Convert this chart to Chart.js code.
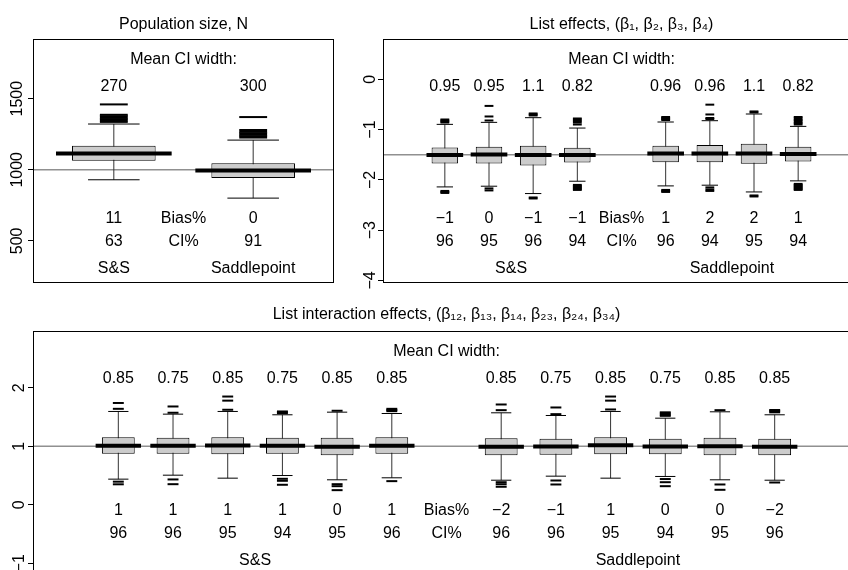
<!DOCTYPE html>
<html>
<head>
<meta charset="utf-8">
<script src="https://cdn.jsdelivr.net/npm/chart.js@4.4.1/dist/chart.umd.min.js"></script>
<style>
  html, body { margin: 0; padding: 0; background: #fff; }
  body { width: 848px; height: 570px; overflow: hidden; position: relative; }
  canvas { position: absolute; }
  #popChart { left: 0; top: 0; }
  #listChart { left: 360px; top: 0; }
  #interChart { left: 0; top: 295px; }
</style>
</head>
<body>
<canvas id="popChart" width="360" height="295"></canvas>
<canvas id="listChart" width="520" height="295"></canvas>
<canvas id="interChart" width="880" height="285"></canvas>
<script>
const methods = ['S&S', 'Saddlepoint'];

// Population size, N
const popPos = [1, 2];
const popTrue = 1000;
const popQ1 = [1063, 942];
const popMed = [1115, 995];
const popQ3 = [1169, 1047];
const popLo = [930, 801];
const popHi = [1322, 1209];
const popOut = [
    [1337, 1347, 1357, 1367, 1377, 1387, 1460],
    [1227, 1237, 1247, 1257, 1267, 1280, 1371]
];
const popWidth = [270, 300];
const popBias = [11, 0];
const popCover = [63, 91];
const popTicks = [500, 1000, 1500];

// List effects
const listPos = [1, 2, 3, 4, 6, 7, 8, 9];
const listTrue = -1.5;
const listQ1 = [-1.674, -1.674, -1.714, -1.654, -1.648, -1.648, -1.681, -1.635];
const listMed = [-1.508, -1.495, -1.508, -1.508, -1.475, -1.475, -1.475, -1.488];
const listQ3 = [-1.355, -1.342, -1.322, -1.362, -1.322, -1.309, -1.283, -1.342];
const listLo = [-2.14, -2.126, -2.272, -2.027, -2.12, -2.106, -2.24, -2.02];
const listHi = [-0.897, -0.857, -0.764, -0.97, -0.85, -0.824, -0.691, -0.937];
const listOut = [
    [-0.80, -0.82, -0.84, -0.86, -2.22, -2.24, -2.26],
    [-0.82, -0.74, -0.53, -2.17, -2.21],
    [-0.68, -0.70, -0.72, -2.35, -2.37],
    [-0.78, -0.80, -0.83, -0.86, -0.90, -2.10, -2.12, -2.14, -2.16, -2.18, -2.20],
    [-0.75, -0.77, -0.79, -0.81, -2.20, -2.22, -2.24],
    [-0.79, -0.77, -0.70, -0.505, -2.15, -2.19, -2.22],
    [-0.64, -0.66, -2.31, -2.33],
    [-0.75, -0.78, -0.81, -0.84, -0.87, -0.90, -2.08, -2.10, -2.12, -2.14, -2.16, -2.18, -2.20]
];
const listWidth = [0.95, 0.95, 1.1, 0.82, 0.96, 0.96, 1.1, 0.82];
const listBias = [-1, 0, -1, -1, 1, 2, 2, 1];
const listCover = [96, 95, 96, 94, 96, 94, 95, 94];
const listTicks = [-4, -3, -2, -1, 0];

// List interaction effects
const interPos = [1, 2, 3, 4, 5, 6, 8, 9, 10, 11, 12, 13];
const interTrue = 1;
const interQ1 = [0.871, 0.871, 0.865, 0.871, 0.848, 0.871, 0.848, 0.854, 0.865, 0.865, 0.848, 0.848];
const interMed = [1.008, 1.008, 1.014, 1.008, 0.99, 1.008, 0.99, 0.997, 1.019, 0.997, 1.002, 0.99];
const interQ3 = [1.156, 1.145, 1.156, 1.145, 1.145, 1.156, 1.139, 1.128, 1.156, 1.128, 1.145, 1.128];
const interLo = [0.438, 0.506, 0.455, 0.50, 0.427, 0.461, 0.42, 0.489, 0.455, 0.484, 0.427, 0.42];
const interHi = [1.595, 1.549, 1.595, 1.538, 1.583, 1.56, 1.572, 1.526, 1.595, 1.48, 1.589, 1.538];
const interOut = [
    [1.64, 1.74, 0.395, 0.35],
    [1.573, 1.68, 0.433, 0.352],
    [1.624, 1.78, 1.85],
    [1.565, 1.58, 1.595, 0.444, 0.41, 0.342],
    [1.607, 0.352, 0.318, 0.25],
    [1.60, 1.62, 1.64, 0.404],
    [1.617, 1.714, 0.386, 0.352, 0.308],
    [1.549, 1.663, 0.415, 0.347],
    [1.629, 1.78, 1.85],
    [1.52, 1.54, 1.56, 1.58, 0.44, 0.386, 0.318],
    [1.617, 0.347, 0.256],
    [1.58, 1.60, 1.62, 0.381]
];
const interWidth = [0.85, 0.75, 0.85, 0.75, 0.85, 0.85, 0.85, 0.75, 0.85, 0.75, 0.85, 0.85];
const interBias = [1, 1, 1, 1, 0, 1, -2, -1, 1, 0, 0, -2];
const interCover = [96, 96, 95, 94, 95, 96, 96, 96, 95, 94, 95, 96];
const interTicks = [-1, 0, 1, 2];

const FONT = '"Liberation Sans", Arial, Helvetica, sans-serif';
Chart.defaults.font.family = FONT;
Chart.defaults.font.size = 16;
Chart.defaults.color = '#000';

const minus = v => String(v).replace('-', '\u2212');
// width of one x unit in pixels, so the marks scale like R's boxplot
const unitPx = chart => Math.abs(chart.scales.x.getPixelForValue(1) - chart.scales.x.getPixelForValue(0));

const framePlugin = {
    id: 'frame',
    afterDatasetsDraw(chart) {
        const { ctx, chartArea: a } = chart;
        ctx.save();
        ctx.strokeStyle = '#000';
        ctx.lineWidth = 1;
        ctx.strokeRect(a.left + 0.5, a.top + 0.5, a.right - a.left - 1, a.bottom - a.top - 1);
        ctx.restore();
    }
};

function boxChart(id, d) {
    const whiskers = [], staples = [], outliers = [], medians = [];
    d.pos.forEach((p, i) => {
        whiskers.push({ x: p, y: d.lo[i] }, { x: p, y: d.hi[i] }, { x: p, y: null });
        staples.push({ x: p, y: d.lo[i] }, { x: p, y: d.hi[i] });
        d.out[i].forEach(v => outliers.push({ x: p, y: v }));
        medians.push({ x: p, y: d.med[i] });
    });
    const half = Math.floor(d.pos.length / 2);
    const groupAt = [d.pos.slice(0, half), d.pos.slice(half)].map(g => g.reduce((s, v) => s + v, 0) / g.length);

    const notesPlugin = {
        id: 'notes',
        afterDatasetsDraw(chart) {
            const { ctx, chartArea: a, scales: { x } } = chart;
            const rowY = f => a.top + f * (a.bottom - a.top);
            ctx.save();
            ctx.fillStyle = '#000';
            ctx.font = '16px ' + FONT;
            ctx.textAlign = 'center';
            ctx.textBaseline = 'middle';
            const put = (t, xv, f) => ctx.fillText(t, x.getPixelForValue(xv), rowY(f));
            put('Mean CI width:', d.labelAt, 0.086);
            d.pos.forEach((p, i) => {
                put(String(d.width[i]), p, 0.195);
                put(minus(d.bias[i]), p, 0.735);
                put(String(d.cover[i]), p, 0.831);
            });
            put('Bias%', d.labelAt, 0.735);
            put('CI%', d.labelAt, 0.831);
            methods.forEach((m, i) => put(m, groupAt[i], 0.94));
            ctx.restore();
        }
    };

    return new Chart(document.getElementById(id), {
        type: 'scatter',
        data: {
            datasets: [
                {
                    type: 'line',
                    data: [{ x: d.xMin, y: d.truth }, { x: d.xMax, y: d.truth }],
                    borderColor: '#909090', borderWidth: 1.6, pointRadius: 0, order: 6
                },
                {
                    type: 'line',
                    data: whiskers,
                    borderColor: '#333333', borderWidth: 1, pointRadius: 0, spanGaps: false, order: 5
                },
                {
                    type: 'bar',
                    data: d.pos.map((p, i) => ({ x: p, y: [d.q1[i], d.q3[i]] })),
                    backgroundColor: '#cccccc', borderColor: '#000', borderWidth: 1,
                    borderSkipped: false, categoryPercentage: 1, barPercentage: 0.6, order: 4
                },
                {
                    data: staples, pointStyle: 'line',
                    pointRadius: c => unitPx(c.chart) * 0.185,
                    borderColor: '#000', pointBorderColor: '#000', pointBorderWidth: 1, order: 3
                },
                {
                    data: outliers, pointStyle: 'line',
                    pointRadius: c => unitPx(c.chart) * 0.1,
                    borderColor: '#000', pointBorderColor: '#000', pointBorderWidth: 2, order: 2
                },
                {
                    data: medians, pointStyle: 'line',
                    pointRadius: c => unitPx(c.chart) * 0.415,
                    borderColor: '#000', pointBorderColor: '#000', pointBorderWidth: 4, order: 1
                }
            ]
        },
        options: {
            responsive: false,
            animation: false,
            events: [],
            layout: { padding: d.pad },
            plugins: {
                legend: { display: false },
                tooltip: { enabled: false },
                title: {
                    display: true, text: d.title, fullSize: false, color: '#000',
                    font: { size: 16, weight: 'normal' }, padding: d.titlePad
                }
            },
            scales: {
                x: {
                    type: 'linear', display: false, offset: false, min: d.xMin, max: d.xMax,
                    grid: { offset: false },
                    afterBuildTicks: s => { s.ticks = d.pos.map(v => ({ value: v })); }
                },
                y: {
                    min: d.yMin, max: d.yMax,
                    afterBuildTicks: s => { s.ticks = d.ticks.map(v => ({ value: v })); },
                    afterFit: s => { s.width = d.axisW; s.paddingTop = 0; s.paddingBottom = 0; },
                    border: { display: false },
                    grid: { drawOnChartArea: false, drawTicks: true, tickLength: 5, color: '#000' },
                    ticks: {
                        color: '#000', font: { size: 16 }, minRotation: 90, maxRotation: 90,
                        crossAlign: 'center', padding: d.tickPad, callback: v => minus(v)
                    }
                }
            }
        },
        plugins: [framePlugin, notesPlugin]
    });
}

boxChart('popChart', {
    title: 'Population size, N',
    pos: popPos, truth: popTrue, q1: popQ1, med: popMed, q3: popQ3, lo: popLo, hi: popHi, out: popOut,
    width: popWidth, bias: popBias, cover: popCover, ticks: popTicks,
    labelAt: 1.5, xMin: 0.42, xMax: 2.58, yMin: 204, yMax: 1920,
    axisW: 33, tickPad: -7,
    pad: { left: 0, right: 26, top: 0, bottom: 12 },
    titlePad: { top: 15, bottom: 4.8 }
});

boxChart('listChart', {
    title: 'List effects, (\u03b2\u2081, \u03b2\u2082, \u03b2\u2083, \u03b2\u2084)',
    pos: listPos, truth: listTrue, q1: listQ1, med: listMed, q3: listQ3, lo: listLo, hi: listHi, out: listOut,
    width: listWidth, bias: listBias, cover: listCover, ticks: listTicks,
    labelAt: 5, xMin: -0.4, xMax: 10.4, yMin: -4.05, yMax: 0.8,
    axisW: 23, tickPad: -1.5,
    pad: { left: 0, right: 20, top: 0, bottom: 12 },
    titlePad: { top: 15, bottom: 4.8 }
});

boxChart('interChart', {
    title: 'List interaction effects, (\u03b2\u2081\u2082, \u03b2\u2081\u2083, \u03b2\u2081\u2084, \u03b2\u2082\u2083, \u03b2\u2082\u2084, \u03b2\u2083\u2084)',
    pos: interPos, truth: interTrue, q1: interQ1, med: interMed, q3: interQ3, lo: interLo, hi: interHi, out: interOut,
    width: interWidth, bias: interBias, cover: interCover, ticks: interTicks,
    labelAt: 7, xMin: -0.56, xMax: 14.56, yMin: -1.2, yMax: 2.97,
    axisW: 33, tickPad: -1,
    pad: { left: 0, right: 20, top: 0, bottom: 5 },
    titlePad: { top: 10.4, bottom: 6.4 }
});
</script>
</body>
</html>
